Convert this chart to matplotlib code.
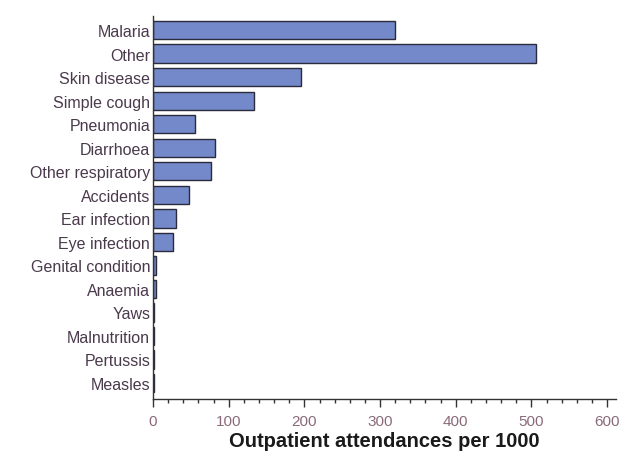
import matplotlib
matplotlib.use('Agg')
import matplotlib.pyplot as plt
from matplotlib.ticker import MultipleLocator

plt.rcParams['font.family'] = ['Liberation Sans', 'DejaVu Sans']

# data
categories = ['Malaria', 'Other', 'Skin disease', 'Simple cough', 'Pneumonia',
              'Diarrhoea', 'Other respiratory', 'Accidents', 'Ear infection',
              'Eye infection', 'Genital condition', 'Anaemia', 'Yaws',
              'Malnutrition', 'Pertussis', 'Measles']
values = [320, 506, 196, 133, 56, 82, 76, 48, 30, 27, 4, 4, 1.5, 1.5, 1.5, 1.5]
xticks = [0, 100, 200, 300, 400, 500, 600]

fig = plt.figure(figsize=(6.26, 4.6), dpi=100)
fig.patch.set_facecolor('white')
ax = fig.add_axes([0.2444, 0.1304, 0.74, 0.8326])

ypos = list(range(len(categories)))
ax.barh(ypos, values, height=0.78, color='#7389c9', edgecolor='#2b2b3d',
        linewidth=1.0, zorder=2)

ax.set_ylim(len(categories) - 1 + 0.68, -0.6)
ax.set_xlim(0, 612)
ax.set_yticks(ypos)
ax.set_yticklabels(categories, fontsize=11.5, color='#4a3a4c')
ax.tick_params(axis='y', length=0, pad=2)

ax.set_xticks(xticks)
ax.xaxis.set_minor_locator(MultipleLocator(20))
ax.tick_params(axis='x', which='major', length=6, width=1, color='#333333',
               labelsize=11, labelcolor='#8a6a7a', pad=5)
ax.tick_params(axis='x', which='minor', length=3, width=1, color='#333333')

for s in ['top', 'right']:
    ax.spines[s].set_visible(False)
for s in ['left', 'bottom']:
    ax.spines[s].set_color('#333333')
    ax.spines[s].set_linewidth(1.0)

ax.set_xlabel('Outpatient attendances per 1000', fontsize=14.5,
              fontweight='bold', color='#1a1a1a', labelpad=2)

plt.savefig('out.png', dpi=100, facecolor='white')
plt.close()
